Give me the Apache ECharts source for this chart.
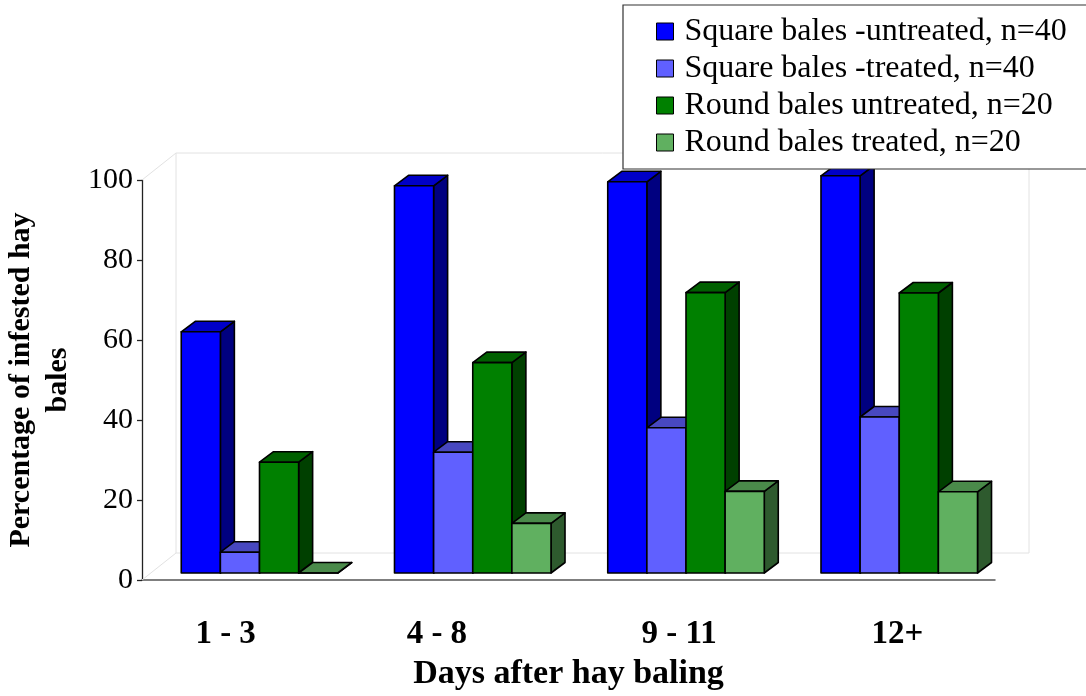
<!DOCTYPE html>
<html>
<head>
<meta charset="utf-8">
<script src="https://cdn.jsdelivr.net/npm/echarts@6/dist/echarts.min.js"></script>
<style>
  html, body { margin: 0; padding: 0; background: #fff; }
  #chart { width: 1086px; height: 696px; }
</style>
</head>
<body>
<div id="chart"></div>
<script>
// Days after baling (categories) and share of infested bales per group
const categories = ['1 - 3', '4 - 8', '9 - 11', '12+'];
const seriesNames = [
  'Square bales -untreated, n=40',
  'Square bales -treated, n=40',
  'Round bales untreated, n=20',
  'Round bales treated, n=20'
];
const squareUntreated = [60.3, 96.8, 97.8, 99.3];
const squareTreated   = [5.2, 30.2, 36.3, 39.0];
const roundUntreated  = [27.7, 52.6, 70.1, 70.0];
const roundTreated    = [0, 12.4, 20.4, 20.3];
const seriesValues = [squareUntreated, squareTreated, roundUntreated, roundTreated];

const SERIF = '"Liberation Serif", "Times New Roman", serif';

// Shading of each box: front, top and right-hand faces
const palette = [
  { front: '#0000ff', top: '#0000c8', side: '#000080' },
  { front: '#6060ff', top: '#4848c0', side: '#303080' },
  { front: '#008000', top: '#006000', side: '#004000' },
  { front: '#60b060', top: '#4a8a4a', side: '#2e5a2e' }
];

// Oblique projection: bar front plane sits slightly behind the axis plane,
// each box has a fixed depth, and the back wall sits further back.
const FRONT_DY = -7;
const DEPTH_DX = 14, DEPTH_DY = -10.5;
const WALL_DX = 34, WALL_DY = -27;

// Horizontal nudges of the category labels (px)
const labelNudge = [-23, -25, 4, 9];

const edge = { stroke: '#000', lineWidth: 1.6, lineJoin: 'round' };

function boxRenderer(idx) {
  return function (params, api) {
    const cat = api.value(0);
    const val = api.value(1);
    const topPt = api.coord([cat, val]);
    const basePt = api.coord([cat, 0]);
    const band = api.size([1, 0])[0];
    const barW = band * 0.1835;
    const x0 = topPt[0] - band * 0.316 + idx * barW;
    const x1 = x0 + barW;
    const yT = topPt[1] + FRONT_DY;
    const yB = basePt[1] + FRONT_DY;
    const c = palette[idx];
    return {
      type: 'group',
      children: [
        {
          type: 'polygon',
          shape: { points: [[x1, yT], [x1 + DEPTH_DX, yT + DEPTH_DY], [x1 + DEPTH_DX, yB + DEPTH_DY], [x1, yB]] },
          style: Object.assign({ fill: c.side }, edge)
        },
        {
          type: 'polygon',
          shape: { points: [[x0, yT], [x1, yT], [x1 + DEPTH_DX, yT + DEPTH_DY], [x0 + DEPTH_DX, yT + DEPTH_DY]] },
          style: Object.assign({ fill: c.top }, edge)
        },
        {
          type: 'rect',
          shape: { x: x0, y: yT, width: barW, height: yB - yT },
          style: Object.assign({ fill: c.front }, edge)
        }
      ]
    };
  };
}

// Faint outline of the back wall and floor
function wallRenderer(params) {
  const cs = params.coordSys;
  const l = cs.x, t = cs.y, r = cs.x + cs.width, b = cs.y + cs.height;
  const line = { stroke: '#e2e2e2', lineWidth: 1, fill: null };
  const seg = (pts) => ({ type: 'polyline', shape: { points: pts }, style: line, silent: true });
  return {
    type: 'group',
    children: [
      seg([[l + WALL_DX, b + WALL_DY], [l + WALL_DX, t + WALL_DY], [r + WALL_DX, t + WALL_DY], [r + WALL_DX, b + WALL_DY], [l + WALL_DX, b + WALL_DY]]),
      seg([[l, t], [l + WALL_DX, t + WALL_DY]]),
      seg([[l, b], [l + WALL_DX, b + WALL_DY]])
    ]
  };
}

const rich = {};
labelNudge.forEach((n, i) => {
  rich['c' + i] = {
    fontFamily: SERIF, fontWeight: 'bold', fontSize: 33, color: '#000',
    padding: n < 0 ? [0, -2 * n, 0, 0] : [0, 0, 0, 2 * n]
  };
});

const series = [{
  type: 'custom',
  name: 'wall',
  silent: true,
  z: 1,
  renderItem: wallRenderer,
  data: [[0, 0]]
}];
seriesValues.forEach((vals, idx) => {
  series.push({
    type: 'custom',
    name: seriesNames[idx],
    z: 2,
    itemStyle: { color: palette[idx].front },
    renderItem: boxRenderer(idx),
    encode: { x: 0, y: 1 },
    data: vals.map((v, j) => [j, v])
  });
});

const chart = echarts.init(document.getElementById('chart'), null, { renderer: 'canvas' });
chart.setOption({
  animation: false,
  backgroundColor: '#fff',
  grid: { left: 142, right: 91, top: 180, bottom: 116, outerBoundsMode: 'none' },
  legend: {
    data: seriesNames,
    orient: 'vertical',
    left: 623,
    top: 5,
    padding: [8, 60, 8, 33],
    itemGap: 0,
    itemWidth: 17,
    itemHeight: 17,
    icon: 'rect',
    backgroundColor: '#fff',
    borderColor: '#333',
    borderWidth: 1.2,
    selectedMode: false,
    itemStyle: { borderColor: '#000', borderWidth: 1 },
    textStyle: { fontFamily: SERIF, fontSize: 32, color: '#000', lineHeight: 37, padding: [0, 0, 0, 6] },
    z: 10
  },
  xAxis: {
    type: 'category',
    data: categories,
    name: 'Days after hay baling',
    nameLocation: 'middle',
    nameGap: 74,
    nameTextStyle: { fontFamily: SERIF, fontWeight: 'bold', fontSize: 34, lineHeight: 36, color: '#000' },
    axisLine: { lineStyle: { color: '#555', width: 1.5 } },
    axisTick: { show: false },
    axisLabel: {
      interval: 0,
      margin: 38,
      formatter: (val, i) => '{c' + i + '|' + val + '}',
      rich: rich
    },
    splitLine: { show: false }
  },
  yAxis: {
    type: 'value',
    min: 0,
    max: 100,
    interval: 20,
    name: 'Percentage of infested hay\nbales',
    nameLocation: 'middle',
    nameGap: 65,
    nameTextStyle: { fontFamily: SERIF, fontWeight: 'bold', fontSize: 30, lineHeight: 37, color: '#000', align: 'center' },
    axisLine: { show: true, lineStyle: { color: '#222', width: 1.3 } },
    axisTick: { show: true, length: 5, lineStyle: { color: '#222', width: 1.3 } },
    axisLabel: { margin: 9, fontFamily: SERIF, fontSize: 30, color: '#000' },
    splitLine: { show: false }
  },
  series: series
});
</script>
</body>
</html>
